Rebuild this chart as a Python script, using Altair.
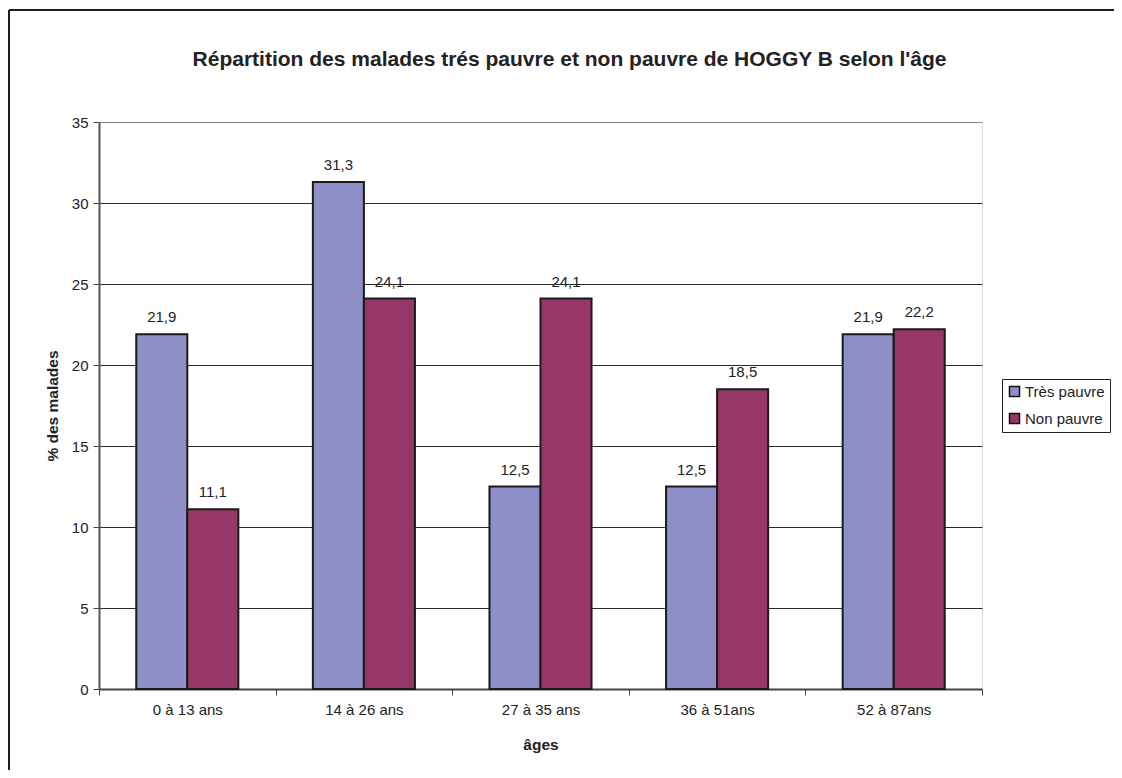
import altair as alt
import pandas as pd

categories = ["0 à 13 ans", "14 à 26 ans", "27 à 35 ans", "36 à 51ans", "52 à 87ans"]
series = ["Très pauvre", "Non pauvre"]
tres_pauvre = [21.9, 31.3, 12.5, 12.5, 21.9]
non_pauvre = [11.1, 24.1, 24.1, 18.5, 22.2]
y_ticks = [0, 5, 10, 15, 20, 25, 30, 35]
colors = ["#8F8FC8", "#973768"]

rows = []
for i, c in enumerate(categories):
    for s, vals in zip(series, [tres_pauvre, non_pauvre]):
        rows.append({"age": c, "serie": s, "value": vals[i],
                     "label": f"{vals[i]:.1f}".replace(".", ",")})
df = pd.DataFrame(rows)

FONT = "Liberation Sans"
TXT = "#222222"

base = alt.Chart(df).encode(
    x=alt.X("age:N", sort=categories, title="âges",
            scale=alt.Scale(paddingInner=0, paddingOuter=0),
            axis=alt.Axis(tickBand="extent", grid=False, labelAngle=0,
                          labelFont=FONT, labelFontSize=15, labelColor=TXT,
                          labelPadding=7, tickSize=6, tickColor="#444", tickWidth=1,
                          domainColor="#444", domainWidth=2,
                          titleFont=FONT, titleFontSize=15.5, titleFontWeight="bold",
                          titleColor=TXT, titleX=441.5, titleY=55,
                          titleAlign="center", titleBaseline="middle")),
    xOffset=alt.XOffset("serie:N", sort=series,
                        scale=alt.Scale(paddingInner=0, paddingOuter=0.73)),
)

bars = base.mark_bar(stroke="#1a1a1a", strokeWidth=2).encode(
    y=alt.Y("value:Q", title="% des malades",
            scale=alt.Scale(domain=[0, 35], nice=False, zero=True),
            axis=alt.Axis(values=y_ticks, grid=True,
                          gridColor={"condition": {"test": "datum.value === 35 || datum.value === 0",
                                                   "value": "#8a8a8a"},
                                     "value": "#2a2a2a"},
                          gridWidth=1,
                          labelFont=FONT, labelFontSize=15, labelColor=TXT,
                          labelPadding=5, tickSize=6, tickColor="#444",
                          domainColor="#555", domainWidth=2,
                          titleFont=FONT, titleFontSize=15.5, titleFontWeight="bold",
                          titleColor=TXT, titleX=-47, titleY=283.5, titleAngle=-90,
                          titleAlign="center", titleBaseline="middle")),
    color=alt.Color("serie:N", sort=series,
                    scale=alt.Scale(domain=series, range=colors),
                    legend=alt.Legend(orient="none", legendX=903, legendY=257,
                                      title=None, fillColor="white",
                                      strokeColor="#222", padding=5,
                                      symbolType="square", symbolSize=100,
                                      symbolStrokeColor="#111", symbolStrokeWidth=1.5,
                                      labelFont=FONT, labelFontSize=15,
                                      labelColor=TXT, rowPadding=10, labelOffset=3)),
)

labels = base.mark_text(font=FONT, fontSize=15, color=TXT, baseline="alphabetic",
                        align="center", dy=-12).encode(
    y=alt.Y("value:Q"),
    text="label:N",
)

border_df = pd.DataFrame({"k": [0]})
top_border = alt.Chart(border_df).mark_rule(color="#1e1e1e", strokeWidth=2).encode(
    x=alt.value(-90), x2=alt.value(1030), y=alt.value(-112))
left_border = alt.Chart(border_df).mark_rule(color="#1e1e1e", strokeWidth=2).encode(
    x=alt.value(-90), y=alt.value(-112), y2=alt.value(660))

chart = alt.layer(bars, labels, top_border, left_border).properties(
    width=883, height=567,
    padding={"left": 91, "top": 114, "right": 132, "bottom": 81},
    autosize=alt.AutoSizeParams(type="none"),
    title=alt.Title("Répartition des malades trés pauvre et non pauvre de HOGGY B selon l'âge",
                    anchor="middle", dx=29, offset=-82, baseline="bottom",
                    font=FONT, fontSize=21, fontWeight="bold", color=TXT),
).configure_view(
    fill="#CACBCD", stroke="#8c8c8c", strokeWidth=2
).configure(background="white")

chart.save("out.html", embed_options={"renderer": "svg", "actions": False})
